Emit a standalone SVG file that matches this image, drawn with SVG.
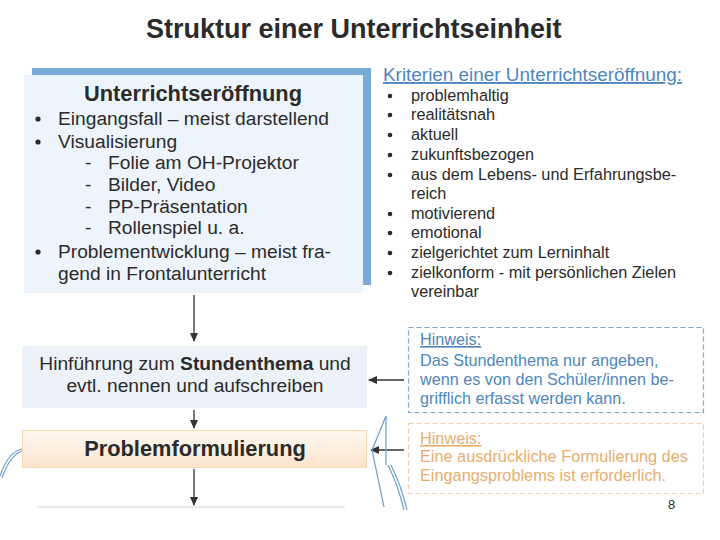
<svg xmlns="http://www.w3.org/2000/svg" width="720" height="540" viewBox="0 0 720 540" font-family="'Liberation Sans', Arial, sans-serif">
<defs>
<linearGradient id="og" x1="0" y1="0" x2="0" y2="1">
<stop offset="0" stop-color="#fffaf3"/>
<stop offset="1" stop-color="#fbe3cb"/>
</linearGradient>
<marker id="ah" markerWidth="10" markerHeight="10" refX="8" refY="5" orient="auto" markerUnits="userSpaceOnUse">
<path d="M0,1 L9,5 L0,9 Z" fill="#333"/>
</marker>
</defs>
<style>
text{font-family:"Liberation Sans",Arial,sans-serif;fill:#2b2b2b}
.t19{font-size:19.2px}
.b{font-weight:bold}
.c16{font-size:16.3px}
.bl{fill:#4f86bd}
.or{fill:#e9ad70}
.dot{fill:#2b2b2b}
.conn{stroke:#333;stroke-width:1.3;fill:none}
.deco{stroke:#6f9cc9;stroke-width:1.2;fill:none}
</style>
<rect width="720" height="540" fill="#ffffff"/>
<text x="146" y="38" font-size="27" class="b">Struktur einer Unterrichtseinheit</text>

<g id="node-eroeffnung">
<rect x="32" y="68" width="339" height="217" fill="#79abd9"/>
<rect x="24" y="75" width="339" height="218" fill="#eef4fb"/>
<text x="193" y="101" font-size="21.8" class="b" text-anchor="middle">Unterrichtseröffnung</text>
<circle cx="38" cy="119" r="2.6" class="dot"/>
<circle cx="38" cy="142" r="2.6" class="dot"/>
<circle cx="38" cy="252" r="2.6" class="dot"/>
<g class="t19">
<text x="58" y="125">Eingangsfall – meist darstellend</text>
<text x="58" y="148">Visualisierung</text>
<text x="85" y="169">-</text><text x="108" y="169">Folie am OH-Projektor</text>
<text x="85" y="191">-</text><text x="108" y="191">Bilder, Video</text>
<text x="85" y="213">-</text><text x="108" y="213">PP-Präsentation</text>
<text x="85" y="234">-</text><text x="108" y="234">Rollenspiel u. a.</text>
<text x="58" y="258">Problementwicklung – meist fra-</text>
<text x="58" y="280">gend in Frontalunterricht</text>
</g>
</g>

<g id="node-kriterien">
<text x="383" y="81" font-size="18.9" class="bl" text-decoration="underline">Kriterien einer Unterrichtseröffnung:</text>
<circle cx="390" cy="96" r="2.3" class="dot"/>
<circle cx="390" cy="115" r="2.3" class="dot"/>
<circle cx="390" cy="135" r="2.3" class="dot"/>
<circle cx="390" cy="155" r="2.3" class="dot"/>
<circle cx="390" cy="175" r="2.3" class="dot"/>
<circle cx="390" cy="214" r="2.3" class="dot"/>
<circle cx="390" cy="233" r="2.3" class="dot"/>
<circle cx="390" cy="253" r="2.3" class="dot"/>
<circle cx="390" cy="273" r="2.3" class="dot"/>
<g class="c16">
<text x="411" y="101">problemhaltig</text>
<text x="411" y="120">realitätsnah</text>
<text x="411" y="140">aktuell</text>
<text x="411" y="160">zukunftsbezogen</text>
<text x="411" y="180">aus dem Lebens- und Erfahrungsbe-</text>
<text x="411" y="199">reich</text>
<text x="411" y="219">motivierend</text>
<text x="411" y="238">emotional</text>
<text x="411" y="258">zielgerichtet zum Lerninhalt</text>
<text x="411" y="278">zielkonform - mit persönlichen Zielen</text>
<text x="411" y="297">vereinbar</text>
</g>
</g>

<g id="node-hinfuehrung">
<rect x="22" y="346" width="345" height="62" fill="#edf2f8"/>
<text x="195" y="370" class="t19" text-anchor="middle">Hinführung zum <tspan class="b">Stundenthema</tspan> und</text>
<text x="195" y="392" class="t19" text-anchor="middle">evtl. nennen und aufschreiben</text>
</g>

<g id="node-problem">
<rect x="22.5" y="430.5" width="344" height="37" fill="url(#og)" stroke="#f6d8b4" stroke-width="1"/>
<text x="195" y="456" font-size="21.8" class="b" text-anchor="middle">Problemformulierung</text>
</g>

<g id="node-hinweis1">
<rect x="408.5" y="327.5" width="295" height="85" fill="none" stroke="#7fa6cc" stroke-width="1.2" stroke-dasharray="5,3"/>
<g font-size="16.2">
<text x="420" y="345" class="bl" text-decoration="underline">Hinweis:</text>
<text x="420" y="366" class="bl">Das Stundenthema nur angeben,</text>
<text x="420" y="385" class="bl">wenn es von den Schüler/innen be-</text>
<text x="420" y="404" class="bl">grifflich erfasst werden kann.</text>
</g>
</g>

<g id="node-hinweis2">
<rect x="408.5" y="423.5" width="295" height="70" fill="none" stroke="#f2cfa6" stroke-width="1.2" stroke-dasharray="5,3"/>
<g font-size="16.3">
<text x="420" y="444" class="or" text-decoration="underline">Hinweis:</text>
<text x="420" y="462" class="or">Eine ausdrückliche Formulierung des</text>
<text x="420" y="481" class="or">Eingangsproblems ist erforderlich.</text>
</g>
</g>

<g id="connectors">
<line x1="194" y1="295" x2="194" y2="341" class="conn" marker-end="url(#ah)"/>
<line x1="194" y1="410" x2="194" y2="428" class="conn" marker-end="url(#ah)"/>
<line x1="194" y1="469" x2="194" y2="505" class="conn" marker-end="url(#ah)"/>
<line x1="404" y1="380" x2="369" y2="380" class="conn" marker-end="url(#ah)"/>
<line x1="404" y1="450" x2="371" y2="450" class="conn" marker-end="url(#ah)"/>
</g>

<g id="decor">
<line x1="37" y1="507" x2="345" y2="507" stroke="#d6d6d6" stroke-width="1"/>
<path d="M386,416 L372,450 L384,507" class="deco"/>
<line x1="386" y1="416" x2="386" y2="465" class="deco"/>
<path d="M388,465 Q398,485 404,510" class="deco"/>
<path d="M391,465 Q401,485 407,510" class="deco" stroke-width="0.8"/>
<path d="M22,449 Q8,452 0,476" class="deco"/>
<path d="M22,451 Q10,455 2,478" class="deco" stroke-width="0.8"/>
</g>

<text x="668" y="509" font-size="13">8</text>
</svg>
